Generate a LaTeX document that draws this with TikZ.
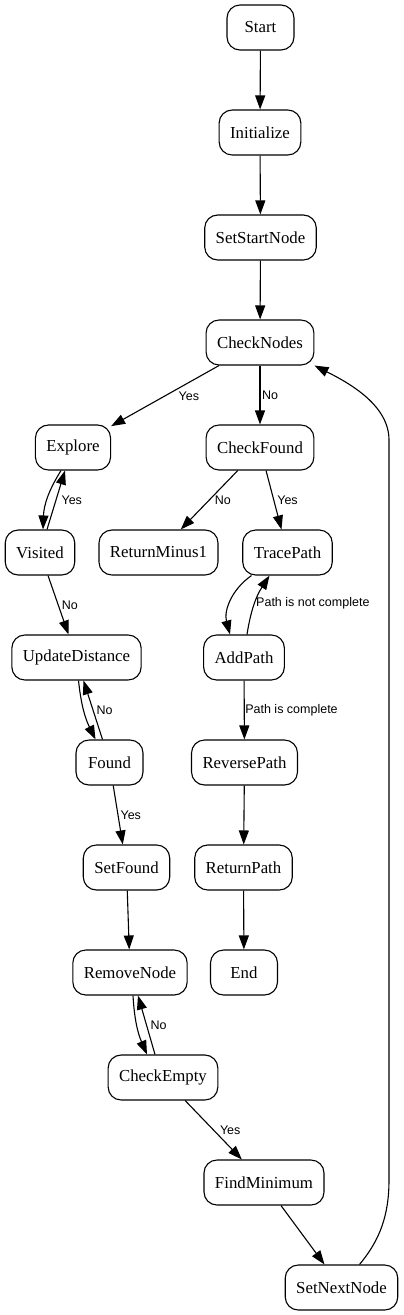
\documentclass[tikz,border=0pt]{standalone}
\usepackage{fontspec}
\setmainfont{Liberation Serif}
\newfontfamily\lblfont{Liberation Sans}
\usetikzlibrary{arrows.meta}
\begin{document}
\begin{tikzpicture}[x=1pt,y=-1pt,
    box/.style={draw,line width=1.1pt,rounded corners=13pt,minimum width=67pt,minimum height=45pt,inner xsep=11pt,font=\fontsize{16.8pt}{20pt}\selectfont},
    arr/.style={line width=1.1pt,-{Triangle[length=14pt,width=10pt]}},
    lbl/.style={font=\lblfont\fontsize{12.5pt}{15pt}\selectfont,inner sep=0pt,anchor=west}]
        \useasboundingbox (0,0) rectangle (404,1315);
        \node[box](start)at(260.5,27.5){Start};
        \node[box](init)at(260,132.5){Initialize};
        \node[box](setstart)at(260.5,237.5){SetStartNode};
        \node[box](checknodes)at(260,342.5){CheckNodes};
        \node[box](explore)at(73,447.5){Explore};
        \node[box](checkfound)at(260,447.5){CheckFound};
        \node[box](visited)at(40,552.5){Visited};
        \node[box](retminus)at(158.5,552.5){ReturnMinus1};
        \node[box](tracepath)at(287.5,552.5){TracePath};
        \node[box](update)at(76.5,657.5){UpdateDistance};
        \node[box](addpath)at(244,657.5){AddPath};
        \node[box](found)at(109.5,762.5){Found};
        \node[box](reverse)at(244.5,762.5){ReversePath};
        \node[box](setfound)at(126.5,867.5){SetFound};
        \node[box](retpath)at(243.5,867.5){ReturnPath};
        \node[box](removenode)at(130,972.5){RemoveNode};
        \node[box](endnode)at(244,972.5){End};
        \node[box](checkempty)at(163,1077.5){CheckEmpty};
        \node[box](findmin)at(264,1182.5){FindMinimum};
        \node[box](setnext)at(341.5,1287.5){SetNextNode};
        \draw[arr](start)--(init);
        \draw[arr](init)--(setstart);
        \draw[arr](setstart)--(checknodes);
        \draw[arr](checknodes)--node[lbl,xshift=13pt](l1){Yes}(explore);
        \draw[arr](checknodes)--node[lbl,xshift=1.5pt](l2){No}(checkfound);
        \draw[arr]([xshift=-12pt]explore.south)to[bend right=15]([xshift=3pt]visited.north);
        \draw[arr]([xshift=7pt]visited.north)--node[lbl,xshift=5pt](l3){Yes}([xshift=-8pt]explore.south);
        \draw[arr](checkfound)--node[lbl,xshift=5pt](l4){No}(retminus);
        \draw[arr](checkfound)--node[lbl,xshift=3pt](l5){Yes}(tracepath);
        \draw[arr](visited)--node[lbl,xshift=3pt](l6){No}(update);
        \draw[arr]([xshift=-36pt]tracepath.south)to[bend right=35]([xshift=-14pt]addpath.north);
        \draw[arr]([xshift=3pt]addpath.north)to[bend left=12]node[lbl,xshift=1pt](l7){Path is not complete}([xshift=-18pt]tracepath.south);
        \draw[arr]([xshift=2pt]update.south)to[bend right=10]([xshift=-14pt]found.north);
        \draw[arr]([xshift=-7pt]found.north)--node[lbl,xshift=3pt](l8){No}([xshift=7pt]update.south);
        \draw[arr](addpath)--node[lbl,xshift=0.5pt](l9){Path is complete}(reverse);
        \draw[arr](found)--node[lbl,xshift=2pt](l10){Yes}(setfound);
        \draw[arr](reverse)--(retpath);
        \draw[arr](setfound)--(removenode);
        \draw[arr](retpath)--(endnode);
        \draw[arr]([xshift=3pt]removenode.south)to[bend right=10]([xshift=-16pt]checkempty.north);
        \draw[arr]([xshift=-8pt]checkempty.north)--node[lbl,xshift=3.5pt](l11){No}([xshift=8pt]removenode.south);
        \draw[arr](checkempty)--node[lbl,xshift=6pt](l12){Yes}(findmin);
        \draw[arr](findmin)--(setnext);
        \draw[arr]([xshift=18pt]setnext.north)..controls(380,1240)and(389,1215)..(389,1180)--(389,440)..controls(389,405)and(349,383)..(checknodes.south east);
    \end{tikzpicture}
\end{document}
